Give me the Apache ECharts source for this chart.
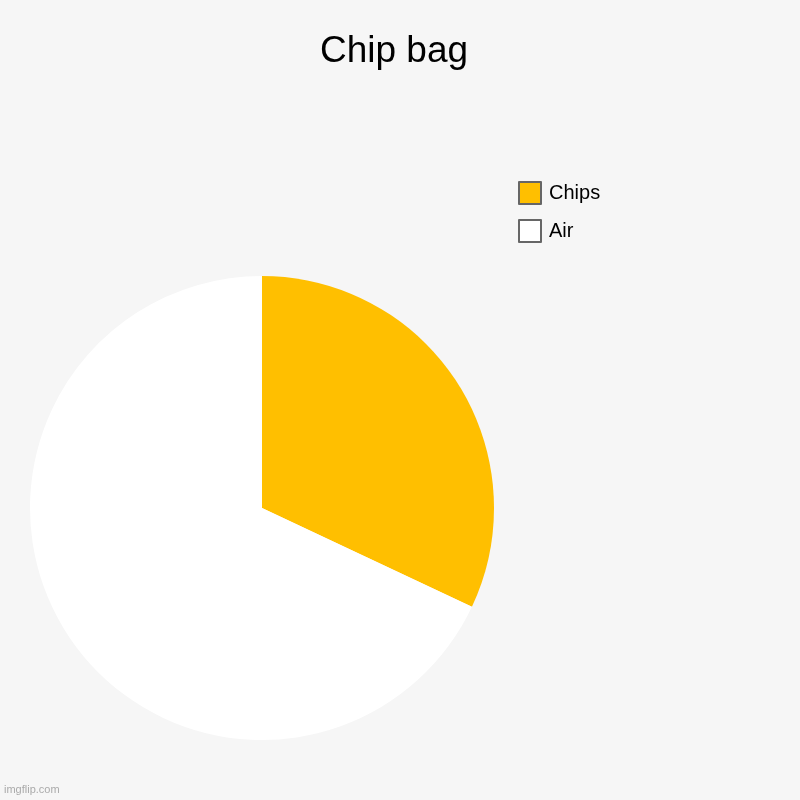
<!DOCTYPE html>
<html>
<head>
    <meta charset="utf-8">
    <title>Chip bag</title>
    <script src="https://cdn.jsdelivr.net/npm/echarts@6/dist/echarts.min.js"></script>
    <style>
        html, body { margin: 0; padding: 0; background: #f6f6f6; }
        #chart { width: 800px; height: 800px; }
    </style>
</head>
<body>
<div id="chart"></div>
<script>
    // 数据
    var categories = ['Chips', 'Air'];
    var values = [32, 68];
    var colors = ['#ffbf00', '#ffffff'];

    var chart = echarts.init(document.getElementById('chart'));
    var option = {
        backgroundColor: '#f6f6f6',
        animation: false,
        title: {
            text: 'Chip bag',
            left: 389,
            textAlign: 'center',
            top: 28,
            textStyle: {
                fontFamily: 'Liberation Sans, Arial',
                fontSize: 37,
                fontWeight: 'normal',
                color: '#000'
            }
        },
        legend: {
            orient: 'vertical',
            left: 513,
            top: 176,
            icon: 'rect',
            itemWidth: 22,
            itemHeight: 22,
            itemGap: 14,
            itemStyle: { borderColor: '#666', borderWidth: 2 },
            textStyle: {
                fontFamily: 'Liberation Sans, Arial',
                fontSize: 20,
                color: '#000',
                padding: [0, 0, 0, 3]
            },
            data: categories
        },
        graphic: [{
            type: 'text',
            left: 4,
            top: 784,
            style: { text: 'imgflip.com', fill: '#aaa', fontSize: 11, fontFamily: 'Liberation Sans, Arial' }
        }],
        series: [{
            type: 'pie',
            center: [262, 508],
            radius: 232,
            startAngle: 90,
            clockwise: true,
            label: { show: false },
            labelLine: { show: false },
            emphasis: { disabled: true },
            data: categories.map(function (c, i) {
                return { name: c, value: values[i], itemStyle: { color: colors[i] } };
            })
        }]
    };
    chart.setOption(option);
</script>
</body>
</html>
